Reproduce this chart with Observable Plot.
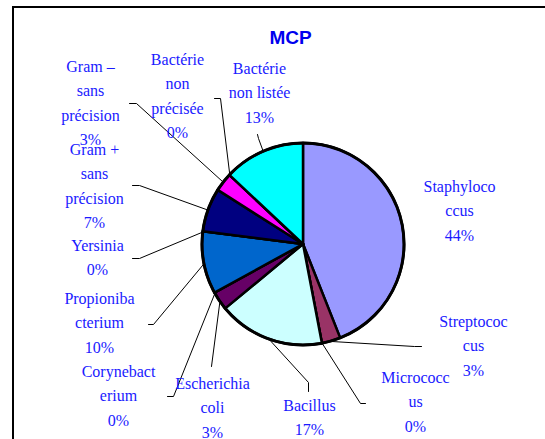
<!DOCTYPE html>
<html>
<head>
<meta charset="utf-8">
<script src="https://cdn.jsdelivr.net/npm/d3@7"></script>
<script src="https://cdn.jsdelivr.net/npm/@observablehq/plot@0.6"></script>
<style>
  html, body { margin: 0; padding: 0; background: #fff; }
  #wrap { position: relative; width: 545px; height: 439px; overflow: hidden; }
  #frame { position: absolute; left: 12px; top: 6px; width: 600px; height: 500px;
           border-left: 2px solid #000; border-top: 2px solid #000; }
  #wrap svg { position: absolute; left: 0; top: 0; }
</style>
</head>
<body>
<div id="wrap"><div id="frame"></div></div>
<script>
// ---- data ----
const title = "MCP";
const categories = [
  "Staphylococcus", "Streptococcus", "Micrococcus", "Bacillus",
  "Escherichia coli", "Corynebacterium", "Propionibacterium", "Yersinia",
  "Gram + sans précision", "Gram - sans précision",
  "Bactérie non précisée", "Bactérie non listée"
];
const values = [44, 3, 0, 17, 3, 0, 10, 0, 7, 3, 0, 13];
const labelLines = [
  ["Staphyloco", "ccus"], ["Streptococ", "cus"], ["Micrococc", "us"], ["Bacillus"],
  ["Escherichia", "coli"], ["Corynebact", "erium"], ["Propioniba", "cterium"], ["Yersinia"],
  ["Gram +", "sans", "précision"], ["Gram –", "sans", "précision"],
  ["Bactérie", "non", "précisée"], ["Bactérie", "non listée"]
];
const colors = ["#9999FF", "#993366", "#FFFFCC", "#CCFFFF", "#660066", "#FF8080",
                "#0066CC", "#CCCCFF", "#000080", "#FF00FF", "#FFFF00", "#00FFFF"];

// ---- layout (positions only) ----
const cx = 303, cy = 244, R = 101;
const lineGap = 24.5;
// label: center x, first line middle y
const labelPos = [
  [459, 186], [473, 321], [415, 377], [309, 405], [212, 383], [118, 371],
  [99, 298], [97, 245], [94, 149], [90, 66], [177, 59], [259, 68]
];
// leader line: start point and elbow (null = no leader)
const leaders = [
  null,
  [[421, 346], [414, 346]],
  [[365, 403], [360, 403]],
  [[308, 391], [308, 382]],
  [[211, 366]],
  [[167, 396], [173, 396]],
  [[148, 324], [153, 324]],
  [[132, 258], [139, 258]],
  [[132, 185], [139, 185]],
  [[129, 103], [136, 103]],
  [[214, 98], [220, 98]],
  [[257, 134], [258, 138]]
];

// ---- derived ----
const arcs = d3.pie().sort(null).value(d => d)(values);
const sliceData = categories.map((c, i) => ({name: c, value: values[i], color: colors[i], arc: arcs[i]}));

const textRows = [];
categories.forEach((c, i) => {
  const lines = [...labelLines[i], values[i] + "%"];
  lines.forEach((t, k) => textRows.push({text: t, x: labelPos[i][0], y: labelPos[i][1] + k * lineGap}));
});

const leaderRows = [];
categories.forEach((c, i) => {
  if (!leaders[i]) return;
  const a = arcs[i];
  const ang = (a.startAngle + a.endAngle) / 2;
  const end = [cx + R * Math.sin(ang), cy - R * Math.cos(ang)];
  [...leaders[i], end].forEach(p => leaderRows.push({name: c, x: p[0], y: p[1]}));
});

function pieMark(index, scales, values_, dimensions) {
  const g = d3.create("svg:g");
  const arcGen = d3.arc().innerRadius(0).outerRadius(R);
  const X = scales.x(cx), Y = scales.y(cy);
  g.append("g").attr("transform", `translate(${X},${Y})`)
    .selectAll("path").data(sliceData).join("path")
    .attr("d", d => arcGen(d.arc))
    .attr("fill", d => d.color)
    .attr("stroke", "#000")
    .attr("stroke-width", 2.5)
    .attr("stroke-linejoin", "round");
  g.append("circle").attr("cx", X).attr("cy", Y).attr("r", R)
    .attr("fill", "none").attr("stroke", "#000").attr("stroke-width", 3);
  return g.node();
}

const chart = Plot.plot({
  width: 545,
  height: 439,
  margin: 0,
  x: {type: "identity", axis: null},
  y: {type: "identity", axis: null},
  style: {background: "transparent", overflow: "visible"},
  marks: [
    Plot.line(leaderRows, {x: "x", y: "y", z: "name", stroke: "#000", strokeWidth: 1}),
    pieMark,
    Plot.text(textRows, {
      x: "x", y: "y", text: "text", fill: "#1a1aff",
      fontFamily: "Liberation Serif", fontSize: 16, textAnchor: "middle",
      lineAnchor: "middle", style: "letter-spacing:1.6px"
    }),
    Plot.text([title], {
      x: () => 290, y: () => 37, text: d => d, fill: "#0000EE",
      fontFamily: "Liberation Sans", fontWeight: "bold", fontSize: 19,
      textAnchor: "middle", lineAnchor: "middle"
    })
  ]
});
document.getElementById("wrap").appendChild(chart);
</script>
</body>
</html>
